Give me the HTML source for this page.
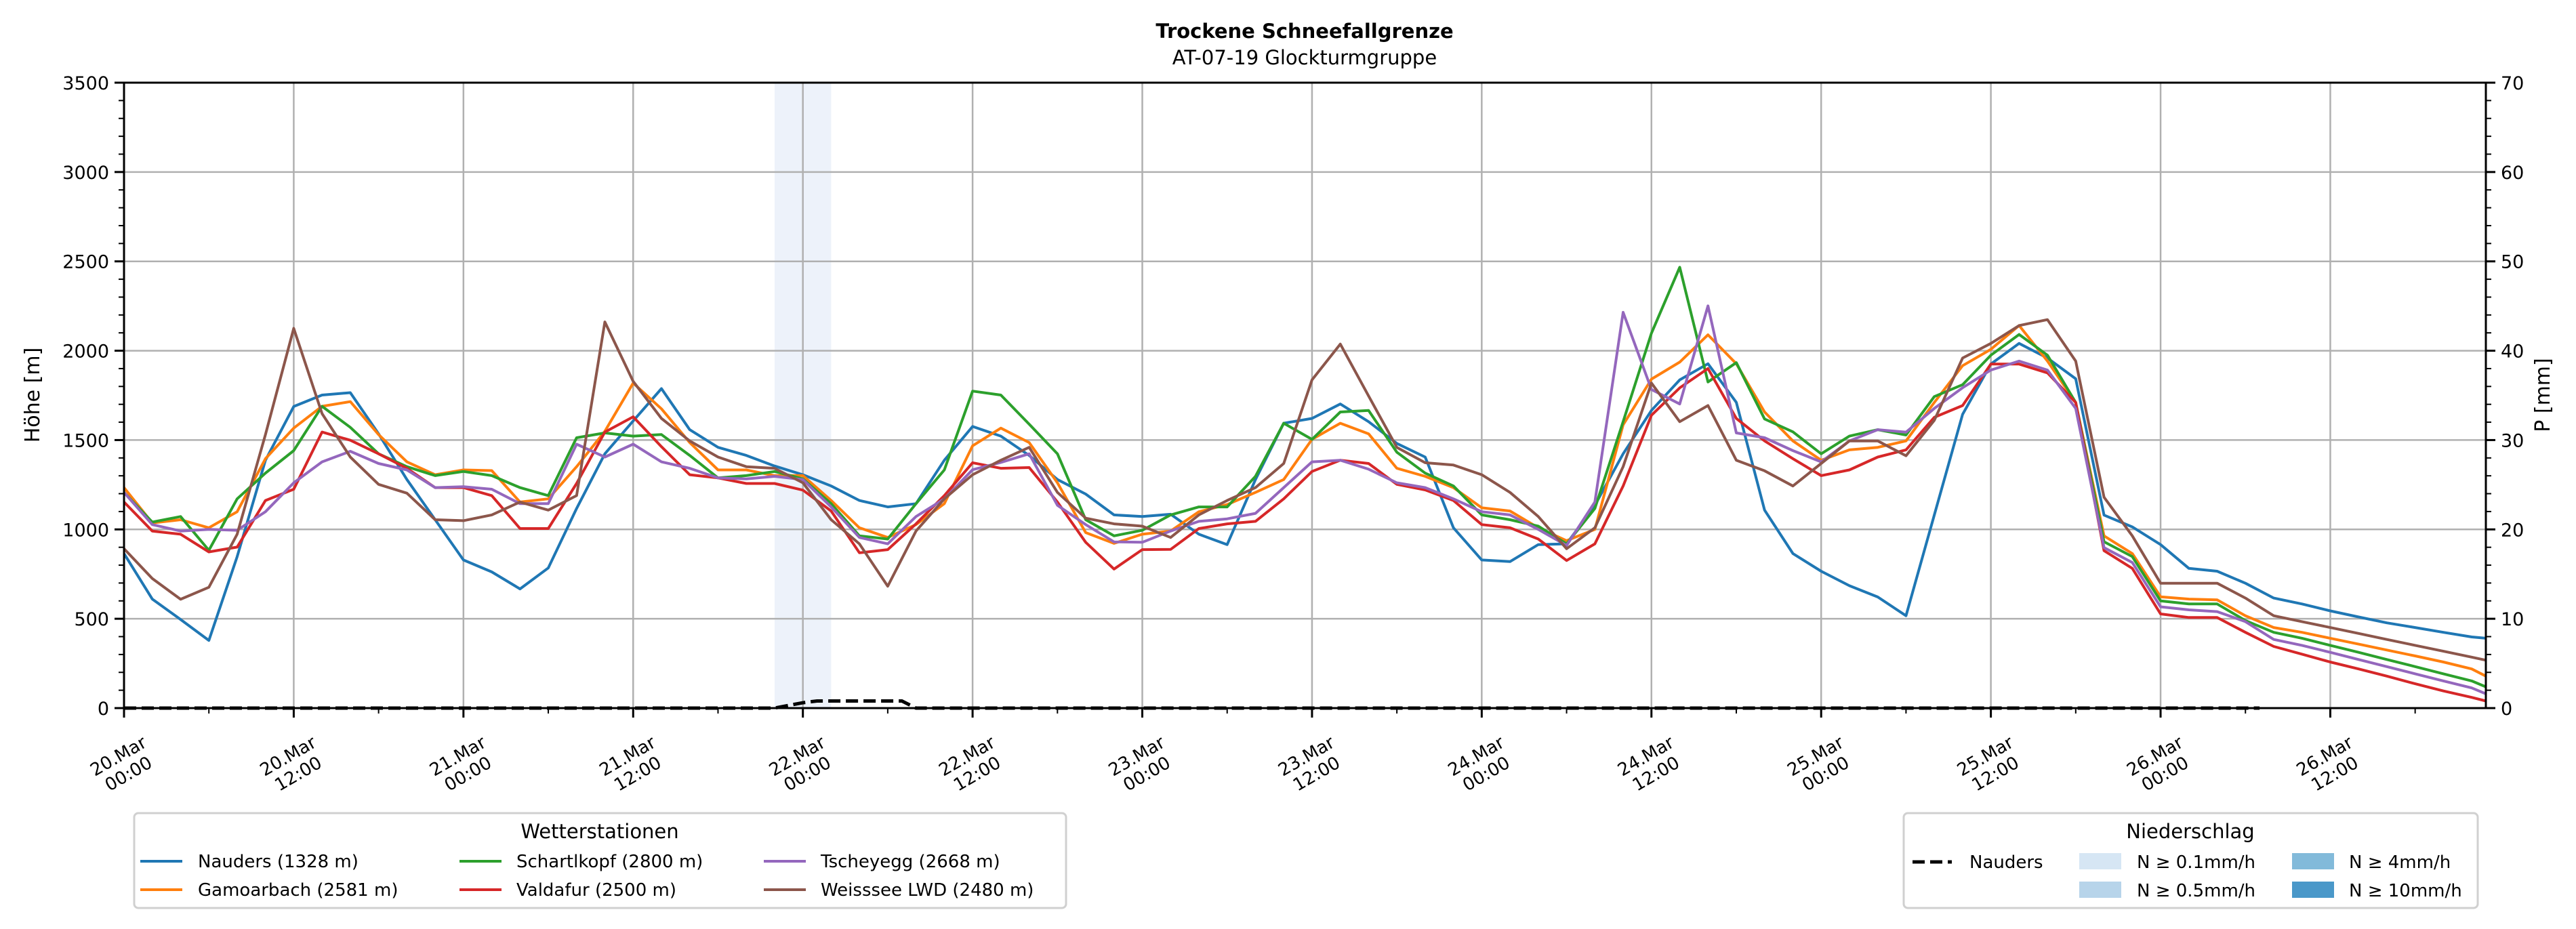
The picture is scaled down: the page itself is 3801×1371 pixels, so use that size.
<!DOCTYPE html>
<html><head><meta charset="utf-8"><style>
html,body{margin:0;padding:0;background:#fff;}
svg{display:block;font-family:"DejaVu Sans","Liberation Sans",sans-serif;}
</style></head><body>
<svg id="chart" width="3801" height="1371" viewBox="0 0 3801 1371" xmlns="http://www.w3.org/2000/svg">
<rect x="0" y="0" width="3801" height="1371" fill="#fff"/>
<text x="1925" y="56" text-anchor="middle" font-size="29" font-weight="bold">Trockene Schneefallgrenze</text>
<text x="1925" y="95" text-anchor="middle" font-size="29">AT-07-19 Glockturmgruppe</text>
<g id="plot"></g>
</svg>
<script>
const hours = [];
for (let h = 0; h <= 166; h += 2) hours.push(h);
hours.push(167);
const nauders = [865,610,496,379,847,1387,1688,1752,1765,1535,1279,1054,829,762,667,784,1117,1423,1607,1788,1558,1459,
1414,1355,1306,1243,1162,1126,1144,1387,1576,1522,1414,1279,1198,1081,1072,1085,973,915,1279,1594,1621,
1702,1603,1481,1405,1009,829,820,915,919,1135,1423,1666,1837,1927,1711,1108,865,766,685,622,
517,1080,1644,1925,2041,1959,1843,1080,1014,915,782,766,699,616,583,544,510,477,451,424,398,391];
const gamoarbach = [1234,1036,1054,1009,1099,1396,1567,1689,1715,1531,1378,1306,1333,1329,1153,1171,1351,1549,1819,1675,1486,1333,
1333,1301,1301,1162,1009,955,1027,1144,1468,1567,1486,1261,982,922,973,991,1099,1139,1207,1279,1504,
1594,1535,1342,1297,1234,1121,1103,1009,937,1000,1585,1841,1936,2089,1927,1657,1495,1387,1445,1459,
1495,1710,1916,2008,2141,1942,1710,964,865,623,610,606,517,451,424,391,358,325,292,258,219,179];
const schartlkopf = [1207,1041,1072,883,1171,1315,1441,1689,1571,1423,1351,1301,1324,1301,1234,1189,1513,1540,1522,1531,1414,1288,
1301,1324,1283,1144,964,946,1144,1333,1774,1752,1589,1423,1054,964,995,1081,1126,1126,1297,1594,1504,
1657,1666,1432,1315,1243,1081,1054,1018,919,1117,1603,2098,2467,1825,1933,1618,1546,1423,1522,1558,
1528,1743,1810,1975,2091,1975,1710,931,848,600,583,583,490,424,391,351,312,272,232,192,152,119];
const valdafur = [1153,991,973,874,901,1162,1225,1545,1499,1423,1342,1234,1234,1189,1005,1005,1257,1545,1630,1463,1306,1288,
1257,1257,1220,1103,869,887,1031,1189,1373,1342,1346,1153,928,778,887,888,1005,1031,1045,1171,1324,
1387,1369,1252,1221,1162,1027,1009,946,826,919,1243,1639,1792,1900,1621,1495,1396,1301,1333,1405,
1445,1627,1693,1925,1925,1876,1710,881,782,527,507,507,424,345,302,258,219,179,136,96,60,40];
const tscheyegg = [1207,1027,991,1000,995,1099,1261,1378,1437,1369,1333,1234,1239,1225,1144,1144,1477,1405,1477,1378,1342,1288,
1283,1297,1279,1126,955,919,1072,1171,1334,1375,1423,1135,1027,930,928,991,1045,1059,1090,1234,1378,
1387,1337,1261,1234,1171,1099,1081,1000,910,1153,2215,1783,1702,2251,1540,1513,1441,1378,1495,1558,
1544,1677,1793,1892,1942,1892,1677,898,815,567,550,540,484,384,351,312,272,232,192,152,113,80];
const weisssee = [892,725,609,676,973,1531,2125,1648,1405,1252,1203,1054,1049,1081,1153,1108,1189,2161,1828,1621,1495,1405,
1351,1342,1261,1054,919,682,991,1171,1306,1387,1459,1207,1063,1031,1018,955,1081,1162,1234,1369,1837,
2037,1747,1459,1373,1360,1306,1207,1072,892,1009,1351,1819,1603,1693,1387,1328,1243,1369,1495,1495,
1412,1610,1959,2041,2141,2174,1942,1180,964,699,699,699,616,517,484,451,418,384,351,318,285,268];
const seriesNames = ["Nauders (1328 m)","Gamoarbach (2581 m)","Schartlkopf (2800 m)","Valdafur (2500 m)","Tscheyegg (2668 m)","Weisssee LWD (2480 m)"];
const precipHours = [0,46,47,48,49,55,56,151];
const precipValues = [0,0,0.3,0.6,0.8,0.8,0,0];
const shadeStart = [46];
const shadeEnd = [50];
const yTicks = [0,500,1000,1500,2000,2500,3000,3500];
const pTicks = [0,10,20,30,40,50,60,70];
const xTickHours = [0,12,24,36,48,60,72,84,96,108,120,132,144,156];
const xTickDates = ["20.Mar","20.Mar","21.Mar","21.Mar","22.Mar","22.Mar","23.Mar","23.Mar","24.Mar","24.Mar","25.Mar","25.Mar","26.Mar","26.Mar"];
const xTickTimes = ["00:00","12:00","00:00","12:00","00:00","12:00","00:00","12:00","00:00","12:00","00:00","12:00","00:00","12:00"];

const colors = ["#1f77b4","#ff7f0e","#2ca02c","#d62728","#9467bd","#8c564b"];
const allSeries = [nauders,gamoarbach,schartlkopf,valdafur,tscheyegg,weisssee];
const L=183,R=3668,T=122,B=1045,XMAX=167,YMAX=3500,PMAX=70;
const xs = h => L + h/XMAX*(R-L);
const ys = v => B - v/YMAX*(B-T);
const yp = p => B - p/PMAX*(B-T);
const NS="http://www.w3.org/2000/svg";
const plot=document.getElementById('plot');
function mk(tag, attrs, parent){const e=document.createElementNS(NS,tag);for(const k in attrs)e.setAttribute(k,attrs[k]);(parent||plot).appendChild(e);return e;}

// shading
for(let i=0;i<shadeStart.length;i++){
  const r=mk('rect',{x:xs(shadeStart[i]),y:T,width:xs(shadeEnd[i])-xs(shadeStart[i]),height:B-T,fill:'#edf2fa'});
  
  
}
// grid
yTicks.forEach(v=>{const g=mk('line',{x1:L,x2:R,y1:ys(v),y2:ys(v),stroke:'#b0b0b0','stroke-width':2.5});
  
  });
xTickHours.forEach(h=>{const g=mk('line',{x1:xs(h),x2:xs(h),y1:T,y2:B,stroke:'#b0b0b0','stroke-width':2.5});
  
  });
// series
allSeries.forEach((s,i)=>{
  const d=s.map((v,j)=>(j?'L':'M')+xs(hours[j]).toFixed(1)+' '+ys(v).toFixed(1)).join(' ');
  const p=mk('path',{d:d,fill:'none',stroke:colors[i],'stroke-width':4,'stroke-linejoin':'round'});
  
  
});
// precip
{const d=precipValues.map((v,j)=>(j?'L':'M')+xs(precipHours[j]).toFixed(1)+' '+yp(v).toFixed(1)).join(' ');
 const p=mk('path',{d:d,fill:'none',stroke:'#000','stroke-width':5,'stroke-dasharray':'18,8'});
 
 }
// axes frame
const fr=mk('rect',{x:L,y:T,width:R-L,height:B-T,fill:'none',stroke:'#000','stroke-width':3});


// y ticks
for(let v=0;v<=YMAX;v+=100){const maj=v%500===0;
  const t=mk('line',{x1:L-(maj?14:8),x2:L,y1:ys(v),y2:ys(v),stroke:'#000','stroke-width':maj?3:2});
  
  
  const t2=mk('line',{x1:R,x2:R+(maj?14:8),y1:ys(v),y2:ys(v),stroke:'#000','stroke-width':maj?3:2});
  
  }
yTicks.forEach(v=>{const t=mk('text',{x:L-22,y:ys(v)+10,'text-anchor':'end','font-size':27});t.textContent=v;
  
  });
pTicks.forEach(v=>{const t=mk('text',{x:R+22,y:yp(v)+10,'text-anchor':'start','font-size':27});t.textContent=v;
  
  });
// x ticks
for(let h=0;h<XMAX;h+=6){const maj=h%12===0;
  const t=mk('line',{x1:xs(h),x2:xs(h),y1:B,y2:B+(maj?14:8),stroke:'#000','stroke-width':maj?3:2});
  
  }
xTickHours.forEach((h,i)=>{const cx=xs(h)-2,cy=1127;
  const t=mk('text',{x:cx,y:cy,'text-anchor':'middle','font-size':26,transform:`rotate(-30 ${cx} ${cy})`});
  
  
  const a=mk('tspan',{x:cx,dy:-4},t);a.textContent=xTickDates[i];
  const b=mk('tspan',{x:cx,dy:30},t);b.textContent=xTickTimes[i];});
// axis titles
{const t=mk('text',{x:58,y:583,'text-anchor':'middle','font-size':30,transform:'rotate(-90 58 583)'});t.textContent='Höhe [m]';
 
 
 const t2=mk('text',{x:3762,y:583,'text-anchor':'middle','font-size':30,transform:'rotate(-90 3762 583)'});t2.textContent='P [mm]';
 
 }
// legend left
{const g=mk('g',{});
 const box=mk('rect',{x:198,y:1200,width:1375,height:140,rx:6,fill:'#fff',stroke:'#d0d0d0','stroke-width':3},g);
 
 const tt=mk('text',{x:885,y:1237,'text-anchor':'middle','font-size':29},g);tt.textContent='Wetterstationen';
 
 const hx=[207,678,1127],tx=[292,762,1211],ry=[1271,1313];
 seriesNames.forEach((n,i)=>{const c=Math.floor(i/2),r=i%2;
  const l=mk('line',{x1:hx[c],x2:hx[c]+62,y1:ry[r],y2:ry[r],stroke:colors[i],'stroke-width':4},g);
  
  const t=mk('text',{x:tx[c],y:ry[r]+9,'font-size':26},g);t.textContent=n;
  });}
// legend right
{const g=mk('g',{});
 const box=mk('rect',{x:2809,y:1200,width:847,height:140,rx:6,fill:'#fff',stroke:'#d0d0d0','stroke-width':3},g);
 
 const tt=mk('text',{x:3232,y:1237,'text-anchor':'middle','font-size':29},g);tt.textContent='Niederschlag';
 
 const l=mk('line',{x1:2822,x2:2880,y1:1272,y2:1272,stroke:'#000','stroke-width':5,'stroke-dasharray':'18,8'},g);
 
 const t=mk('text',{x:2906,y:1281,'font-size':26},g);t.textContent='Nauders';
 
 const pc=['#d6e6f4','#b7d4ea','#82bada','#4a98c9'],pl=['N ≥ 0.1mm/h','N ≥ 0.5mm/h','N ≥ 4mm/h','N ≥ 10mm/h'];
 const px=[3068,3068,3382,3382],tx=[3153,3153,3466,3466],py=[1259,1301,1259,1301];
 pc.forEach((c,i)=>{const r=mk('rect',{x:px[i],y:py[i],width:62,height:24,fill:c},g);
  
  const tx2=mk('text',{x:tx[i],y:py[i]+22,'font-size':26},g);tx2.textContent=pl[i];
  });}
</script>
</body></html>
